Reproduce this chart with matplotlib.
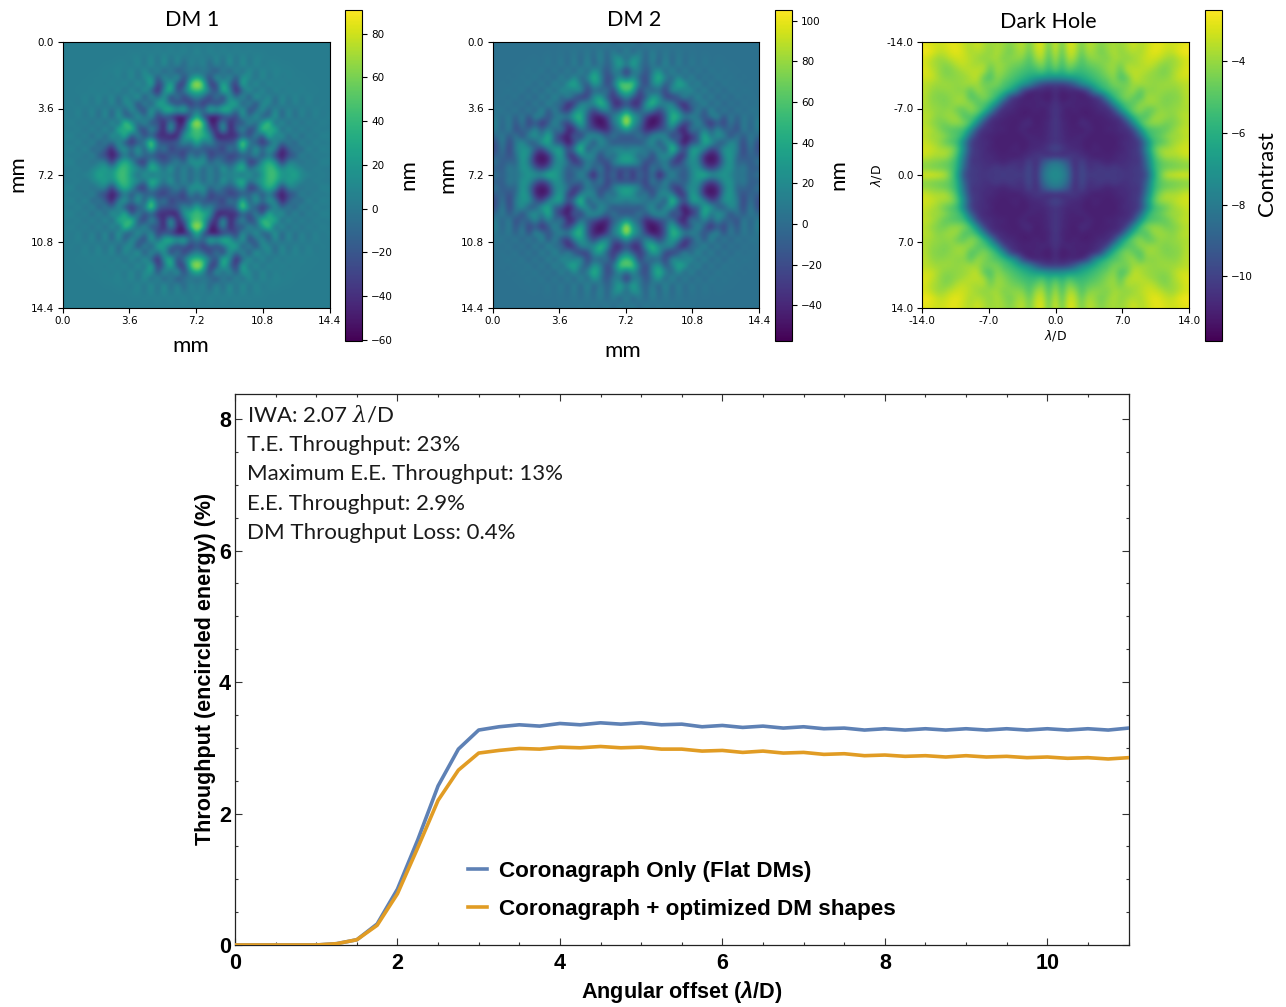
import numpy as np
import matplotlib
matplotlib.use("Agg")
import matplotlib.pyplot as plt
from matplotlib.ticker import MultipleLocator

# Upper-left quadrants of the (mirror-symmetric) maps
DM1_QUADRANT = [
 [3,3,3,3,3,3,3,3,3,3,3,3,3,3,3,3,3,3,3,3,3],
 [3,3,3,3,3,3,3,3,3,3,4,3,6,2,8,1,9,0,11,-2,13],
 [3,3,3,3,3,3,3,3,4,3,5,9,-3,14,-7,17,-7,14,-5,7,1],
 [3,3,3,3,3,3,4,4,5,7,-2,14,-7,20,-11,22,-14,17,-18,14,-2],
 [3,3,3,3,3,4,5,5,9,0,14,-7,20,-15,20,-25,14,-32,1,-2,-10],
 [3,3,3,3,5,3,7,0,10,-5,17,-10,14,26,-30,28,-20,35,-35,7,35],
 [3,3,3,5,2,7,0,11,-3,17,-12,25,-15,45,-42,-10,45,-30,-42,55,85],
 [3,3,5,1,9,0,11,-5,17,-15,22,-18,30,-15,-55,15,50,-38,5,35,45],
 [3,3,2,9,-2,13,-5,17,-15,20,-10,38,-38,28,-18,30,-45,15,-42,-8,10],
 [3,5,-1,10,-5,14,-12,20,-18,15,15,-38,25,-32,40,20,-10,-38,-15,-45,-15],
 [3,2,9,-5,14,-12,17,-18,22,-25,25,-10,-38,35,-15,35,50,25,50,-15,5],
 [5,-1,10,-8,14,-15,22,-25,32,-18,-22,30,-15,25,-42,-15,-38,-55,-55,-28,45],
 [3,9,-5,14,-15,20,-22,30,-25,65,20,-18,25,-32,-15,-55,20,-42,-55,55,85],
 [3,-1,11,-12,20,-18,28,-25,48,20,60,-18,-38,25,-15,-55,40,-55,-15,30,50],
 [7,10,-7,17,-22,25,-25,32,-10,55,-38,20,-32,-15,-48,-38,-58,-50,20,40,45],
 [3,-2,14,-15,22,-25,12,-18,25,-30,-42,-22,5,75,-10,-28,-15,-15,20,-10,45],
 [5,11,-8,20,-22,8,-18,-55,8,30,-15,35,-32,55,-22,15,-42,-15,-28,-22,-10],
 [3,-2,11,-12,17,-22,-28,-55,-38,8,-32,15,-10,-22,-28,-38,-10,-22,-38,15,-28],
 [7,10,-8,11,-12,8,8,-45,20,40,20,-38,-42,25,-10,-22,-15,15,-22,25,20],
 [1,1,9,-7,11,14,30,8,40,45,25,20,-15,50,25,-10,35,-22,20,-22,20],
 [3,7,-2,11,8,35,14,20,45,45,20,-15,30,-15,8,8,3,-10,11,-12,8],
]
DM2_QUADRANT = [
 [3,3,3,3,3,3,3,3,3,3,4,5,3,7,2,8,1,10,-2,11,1],
 [3,3,3,3,3,3,3,3,4,3,5,1,9,-1,11,-3,15,-7,15,-12,22],
 [3,3,3,3,3,4,5,3,7,1,9,-3,14,-7,17,-10,25,-14,22,30,-10],
 [3,3,3,3,5,3,7,0,11,-3,15,-8,20,-12,28,-14,15,-10,8,45,5],
 [3,3,3,5,2,9,-1,14,-8,17,-12,22,-15,30,-15,35,8,-22,15,8,-42],
 [3,3,5,1,9,-1,15,-8,17,-15,28,-15,32,-12,17,55,20,-25,-10,28,-10],
 [3,5,1,9,-1,15,-10,20,-15,30,-12,35,45,8,-18,35,20,-32,8,65,70],
 [3,3,9,-2,15,-12,20,-15,28,-15,32,8,15,30,-32,0,-15,15,-38,45,60],
 [3,7,-2,14,-12,20,-18,28,-18,35,-15,25,-10,-38,-28,25,40,-15,-32,-15,25],
 [5,-1,11,-10,17,-18,25,-20,32,-10,8,-45,-32,20,20,20,60,30,-38,-42,-15],
 [5,9,-5,17,-15,22,-20,32,-25,25,-25,-38,15,35,8,-28,8,25,-15,-10,25],
 [7,-3,15,-15,20,-25,28,8,-18,0,25,8,45,55,-15,-42,-50,-28,15,35,90],
 [15,-8,17,-20,15,-32,-10,-42,-15,30,-15,-32,8,50,-10,-42,-55,-42,8,30,105],
 [11,-10,20,-28,0,-10,25,-15,20,-10,20,-45,-42,15,-10,-22,-38,-42,-10,8,35],
 [-2,15,-18,15,-28,20,30,0,55,-10,-38,-50,0,-38,20,30,20,-15,15,-15,-15],
 [-18,17,-28,8,30,-15,-10,35,45,-15,-15,-55,-28,25,30,-28,30,8,-22,-10,-10],
 [-20,11,-32,15,25,30,-10,-32,15,40,35,-22,15,75,-28,20,8,0,25,20,8],
 [-10,0,-22,0,35,20,-42,-50,-42,15,40,-32,-38,20,25,20,-32,20,-10,25,35],
 [7,-15,0,-10,35,8,-42,-50,-42,15,25,8,-38,-28,15,0,-15,-28,15,35,40],
 [-10,-10,15,0,30,25,-10,-32,-10,30,20,-15,8,-10,25,-15,20,-32,-10,-22,-22],
 [7,-10,8,3,15,30,30,30,55,35,15,-15,-10,30,-15,-55,8,-28,8,-42,8],
]
DH_QUADRANT = [
 [-2.9,-3.1,-3.3,-3.2,-2.9,-3,-3.4,-3.7,-3.2,-3.7,-4,-3.8,-3.9,-4.4,-3.8,-3.5,-4.6,-3.3,-3,-4.8,-3],
 [-2.7,-2.9,-3.4,-3.4,-3,-2.9,-3.3,-3.8,-3.6,-3.8,-4.2,-3.6,-4.1,-4.6,-4,-3.7,-4.8,-3.5,-3.2,-5,-3.2],
 [-3.1,-3.5,-4,-3.8,-3.4,-3.2,-3.3,-3.6,-3.9,-4.2,-3.9,-3.8,-4.4,-4.2,-4.1,-4.2,-5.2,-3.9,-3.6,-5.3,-3.6],
 [-3.1,-3.7,-3.9,-4.3,-4,-3.5,-3.4,-3.7,-3.8,-3.7,-4.5,-3.9,-4.1,-4.4,-4.6,-4.8,-5.3,-4.7,-4.2,-5.5,-4.2],
 [-3,-3.4,-3.9,-4.4,-4.3,-4,-3.7,-3.5,-3.5,-3.6,-5,-3.9,-4.2,-4.7,-5,-5.3,-5.6,-5.5,-5,-6,-5],
 [-3.2,-3.3,-3.8,-4.2,-4.2,-4.1,-4,-3.7,-3.4,-4.8,-5.3,-4.1,-4.6,-5,-5.4,-5.8,-6.2,-6.5,-6.7,-7,-7.2],
 [-3.5,-3.8,-3.9,-3.9,-4,-4.1,-3.9,-3.8,-3.9,-4.6,-4.4,-4.4,-5.1,-5.5,-6,-6.7,-7.5,-9,-10,-10.3,-10.2],
 [-3.5,-4,-4.2,-4.1,-4,-4.2,-4.2,-5,-3.9,-4.3,-4.8,-5.1,-5.5,-6.1,-7.5,-10,-10.8,-11,-10.7,-11,-10.5],
 [-3.6,-4.2,-4.3,-4.4,-4.1,-3.9,-3.9,-5.2,-4.8,-4.2,-4.8,-5.6,-7,-10,-10.6,-10.9,-11.1,-10.7,-11,-11.2,-10.5],
 [-3.6,-4.1,-4.2,-4.4,-4.2,-3.9,-4,-4.1,-5,-5,-5.8,-7,-10,-10.5,-10.7,-10.9,-10.7,-11,-10.6,-10.9,-10.3],
 [-3.7,-3.9,-4.1,-4.2,-4,-4.8,-4.8,-4.1,-4.5,-5.5,-7,-10,-10.7,-10.6,-10.9,-11,-11.1,-10.7,-11.1,-10.7,-10.3],
 [-3.5,-3.8,-4.3,-4,-3.9,-4,-5.2,-5,-5.6,-7.5,-10.2,-10.6,-10.7,-11,-10.9,-11.1,-10.9,-11.1,-10.9,-10.9,-10.2],
 [-3.6,-4.1,-4.4,-4.6,-4.1,-4,-4.3,-5.3,-7.2,-10,-10.7,-10.8,-11,-10.9,-11.1,-10.7,-10.5,-11.1,-10.9,-10.7,-10.2],
 [-3.4,-3.7,-4.2,-4.8,-5,-5.2,-5.4,-7,-9.8,-10.6,-10.5,-10.9,-10.7,-11.1,-10.9,-10.7,-11.1,-10.9,-10.9,-10.7,-10.3],
 [-3.5,-3.9,-3.9,-4.2,-4.8,-5.1,-6.1,-9,-10.4,-10.7,-10.9,-10.9,-11.1,-10.9,-11.1,-10.9,-10.7,-10.9,-10.9,-10.6,-10.3],
 [-3.3,-3.7,-4,-4.7,-5.1,-5.6,-7.8,-10.2,-10.5,-10.6,-10.7,-11.1,-10.9,-11.1,-10.9,-11.1,-10.9,-10.7,-10.8,-10.6,-10.4],
 [-3.2,-3.3,-3.7,-3.8,-4,-5.1,-7.2,-10,-10.4,-10.6,-10.9,-10.9,-11.1,-10.9,-10.7,-11.1,-10.7,-10.8,-10.6,-10.2,-9.6],
 [-3.2,-3.6,-3.7,-3.6,-4.3,-5.5,-8,-10.3,-10.3,-10.7,-10.6,-10.9,-10.9,-10.9,-11.1,-10.7,-10.7,-10.2,-10.4,-10.8,-10.8],
 [-4,-4.2,-4.4,-4.6,-5,-5.9,-8.5,-10.4,-10.4,-10.5,-10.7,-10.7,-10.9,-10.7,-10.4,-10.7,-9.8,-10.8,-9.5,-8.5,-8],
 [-4.2,-4.4,-4.5,-4.6,-5,-6,-9,-10.2,-10.2,-10.5,-10.4,-10.1,-10.4,-10.1,-10.4,-10.5,-9.6,-10.8,-8.8,-7.8,-7.5],
 [-3,-3,-3.2,-3.4,-4.8,-6.5,-9.8,-10.2,-10.3,-10.4,-10.2,-10.4,-10.1,-10.4,-10.1,-10.3,-9.6,-10.8,-8.5,-7.5,-7.2],
]

DM_TICKS = [0.0, 3.6, 7.2, 10.8, 14.4]
DH_TICKS = [-14, -7, 0, 7, 14]
DH_LABELS = ["-14.0", "-7.0", "0.0", "7.0", "14.0"]
DM1_CB_TICKS = [-60, -40, -20, 0, 20, 40, 60, 80]
DM2_CB_TICKS = [-40, -20, 0, 20, 40, 60, 80, 100]
DH_CB_TICKS = [-10, -8, -6, -4]

offset = [0.25 * i for i in range(45)]
flat_dm = [0,0,0,0,0,0.02,0.08,0.32,0.85,1.6,2.42,2.98,3.27,3.32,3.35,3.33,3.37,3.35,3.38,3.36,
           3.38,3.35,3.36,3.32,3.34,3.31,3.33,3.30,3.32,3.29,3.30,3.27,3.29,3.27,3.29,3.27,
           3.29,3.27,3.29,3.27,3.29,3.27,3.29,3.27,3.30]
opt_dm = [0,0,0,0,0,0.02,0.08,0.30,0.78,1.48,2.20,2.66,2.92,2.96,2.99,2.98,3.01,3.00,3.02,3.00,
          3.01,2.98,2.98,2.95,2.96,2.93,2.95,2.92,2.93,2.90,2.91,2.88,2.89,2.87,2.88,2.86,
          2.88,2.86,2.87,2.85,2.86,2.84,2.85,2.83,2.85]
annotations = ["IWA: 2.07 $\\lambda$/D", "T.E. Throughput: 23%", "Maximum E.E. Throughput: 13%",
               "E.E. Throughput: 2.9%", "DM Throughput Loss: 0.4%"]
annotation_rows = [28.5, 57.5, 86.5, 116.5, 145.5]

W, H = 1286, 1007
plt.rcParams.update({"mathtext.fontset": "custom",
                     "mathtext.rm": "Liberation Sans:bold",
                     "mathtext.it": "Liberation Sans:italic:bold",
                     "mathtext.bf": "Liberation Sans:bold"})
fig = plt.figure(figsize=(W / 100, H / 100), dpi=100)


def px_axes(x0, y0, x1, y1):
    return fig.add_axes([x0 / W, 1 - y1 / H, (x1 - x0) / W, (y1 - y0) / H])


def full(q):
    q = np.array(q, float)
    top = np.hstack([q, q[:, -2::-1]])
    return np.vstack([top, top[-2::-1]])


def heat(q, extent, vmin, vmax, box, cbox, cb_ticks, ticks, labels):
    ax = px_axes(*box)
    im = ax.imshow(full(q), extent=extent, cmap="viridis", vmin=vmin, vmax=vmax,
                   interpolation="bicubic", aspect="auto")
    ax.set_xticks(ticks, labels)
    ax.set_yticks(ticks, labels)
    ax.tick_params(labelsize=7.5, length=3.5, width=0.8, pad=2.5)
    cax = px_axes(*cbox)
    cb = fig.colorbar(im, cax=cax)
    cb.set_ticks(cb_ticks)
    cb.ax.tick_params(labelsize=7.5, length=3.5, width=0.8, pad=3)
    return ax


DM_LABELS = [f"{t:.1f}" for t in DM_TICKS]
heat(DM1_QUADRANT, (0, 14.4, 14.4, 0), -60.5, 91, (62.5, 42, 329.5, 308), (345, 9.5, 362, 341),
     DM1_CB_TICKS, DM_TICKS, DM_LABELS)
heat(DM2_QUADRANT, (0, 14.4, 14.4, 0), -57.5, 105.5, (492.5, 42, 759, 308), (775, 9.5, 792, 341),
     DM2_CB_TICKS, DM_TICKS, DM_LABELS)
ax3 = heat(DH_QUADRANT, (-14, 14, 14, -14), -11.8, -2.55, (922, 42, 1189, 308), (1205, 9.5, 1222, 341),
           DH_CB_TICKS, DH_TICKS, DH_LABELS)
ax3.set_xlabel("$\\lambda$/D", fontsize=9, math_fontfamily="dejavusans", labelpad=1)
ax3.set_ylabel("$\\lambda$/D", fontsize=9, math_fontfamily="dejavusans", labelpad=2)


def ptext(x, y, s, **kw):
    fig.text(x / W, 1 - y / H, s, ha="center", va="center", family="Lato", **kw)


ptext(192, 20, "DM 1", fontsize=15.5)
ptext(634, 20, "DM 2", fontsize=15.5)
ptext(1048, 22, "Dark Hole", fontsize=15.5)
ptext(191, 346, "mm", fontsize=16)
ptext(623, 351, "mm", fontsize=16)
ptext(17, 174, "mm", fontsize=16, rotation=90)
ptext(447, 175, "mm", fontsize=16, rotation=90)
ptext(408, 175, "nm", fontsize=16, rotation=90)
ptext(838, 175, "nm", fontsize=16, rotation=90)
ptext(1267, 174, "Contrast", fontsize=16, rotation=90)

ax = px_axes(235, 393.5, 1128.5, 945)
ax.plot(offset, flat_dm, color="#5E81B5", lw=2.6, label="Coronagraph Only (Flat DMs)", zorder=4)
ax.plot(offset, opt_dm, color="#E19C24", lw=2.6, label="Coronagraph + optimized DM shapes", zorder=5)
ax.set_xlim(0, 11)
ax.set_ylim(0, 8.39)
ax.xaxis.set_major_locator(MultipleLocator(2))
ax.xaxis.set_minor_locator(MultipleLocator(0.5))
ax.yaxis.set_major_locator(MultipleLocator(2))
ax.yaxis.set_minor_locator(MultipleLocator(0.5))
ax.tick_params(which="both", direction="in", top=True, right=True, width=0.8, color="#333333")
ax.tick_params(which="major", length=5, labelsize=15.5)
ax.tick_params(which="minor", length=2.5)
ax.tick_params(axis="x", which="major", pad=6)
ax.tick_params(axis="y", which="major", pad=3)
for lab in ax.get_xticklabels() + ax.get_yticklabels():
    lab.set_fontfamily("Liberation Sans")
    lab.set_fontweight("bold")
for s in ax.spines.values():
    s.set_linewidth(0.9)
    s.set_color("#222222")
ax.set_xlabel("Angular offset ($\\lambda$/D)", family="Liberation Sans", weight="bold",
              fontsize=15.6, labelpad=3.5)
ax.set_ylabel("Throughput (encircled energy) (%)", family="Liberation Sans", weight="bold",
              fontsize=15.5, labelpad=2)
for rowpx, t in zip(annotation_rows, annotations):
    ax.text(0.0134, 1 - rowpx / 551.5, t, transform=ax.transAxes, family="Lato",
            fontsize=16, va="baseline", ha="left", math_fontfamily="dejavuserif", color="#1a1a1a")
leg = ax.legend(loc="lower left", bbox_to_anchor=(233 / 893.5, 25 / 551.5), frameon=False,
                prop={"family": "Liberation Sans", "weight": "bold", "size": 16.2},
                handlelength=0.85, handletextpad=0.53, labelspacing=0.74, borderpad=0, borderaxespad=0)
fig.savefig("out.png", dpi=100)
